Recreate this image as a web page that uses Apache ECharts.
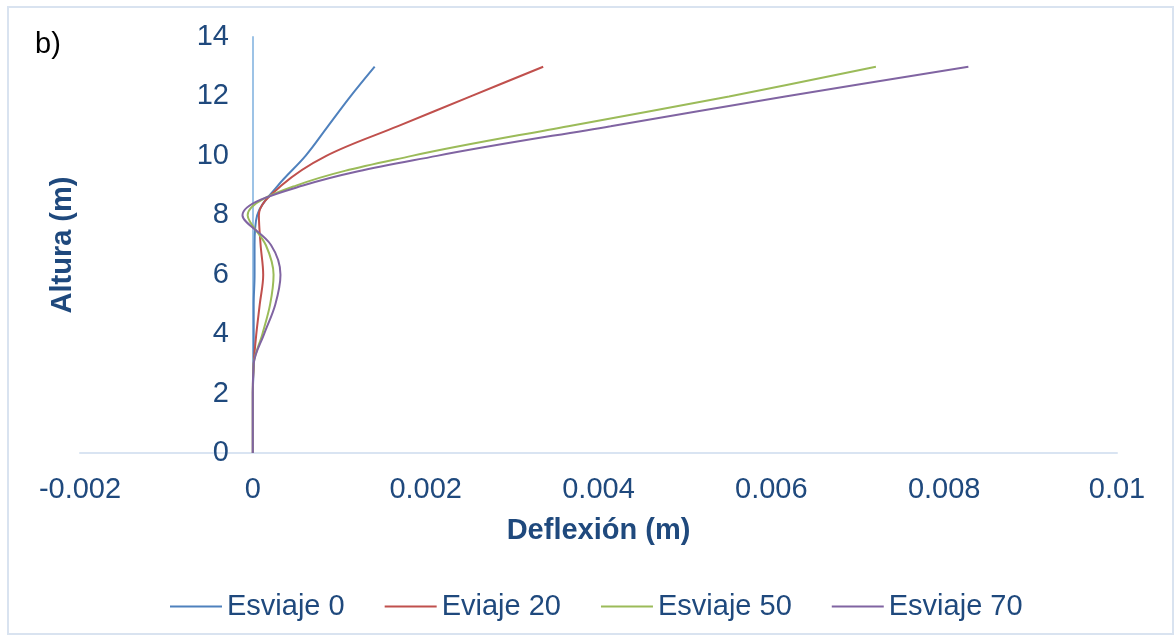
<!DOCTYPE html>
<head>
    <meta charset="utf-8"/>
    <style>
        html, body { margin: 0; padding: 0; background: #fff; }
        #container { width: 1175px; height: 640px; }
    </style>
</head>
<body>
<div id="container"></div>
<script src="https://cdn.jsdelivr.net/npm/echarts@6/dist/echarts.min.js"></script>
<script type="text/javascript">
    // alturas (m) y deflexiones (m)
    var alturas = [0, 1, 2, 3, 4, 5, 6, 7, 8, 9, 10, 11, 12, 13];
    var esviaje0 = [0, 0, 0, 0.00001, 0.00001, 0.00001, 0.00002, 0.00002, 0.00005, 0.00029, 0.00061, 0.00087, 0.00113, 0.00141];
    var eviaje20 = [0, 0, 0, 0.00001, 0.00004, 0.00008, 0.00012, 0.00009, 0.00007, 0.00033, 0.00085, 0.00168, 0.00252, 0.00336];
    var esviaje50 = [0, 0, 0, 0.00001, 0.00011, 0.00020, 0.00024, 0.00015, -0.00006, 0.00050, 0.00184, 0.00365, 0.00551, 0.00721];
    var esviaje70 = [0, 0, 0, 0.00001, 0.00013, 0.00026, 0.00032, 0.00021, -0.00012, 0.00058, 0.00213, 0.00414, 0.00616, 0.00828];

    var nombres = ['Esviaje 0', 'Eviaje 20', 'Esviaje 50', 'Esviaje 70'];
    var colores = ['#4F81BD', '#C0504D', '#9BBB59', '#8064A2'];
    var textColor = '#1F497D';
    var fuente = 'Liberation Sans';
    var tam = 29;
    var xMin = -0.002, xMax = 0.01;
    var gridLeft = 80, gridRight = 58;

    function pares(xs) {
        var d = [];
        for (var i = 0; i < xs.length; i++) {
            d.push([xs[i], alturas[i]]);
        }
        return d;
    }

    var dom = document.getElementById("container");
    var myChart = echarts.init(dom);
    // el eje Y cruza en x = 0: desplazamiento desde el borde izquierdo del grid
    var anchoGrid = 1175 - gridLeft - gridRight;
    var offsetY = -Math.round((0 - xMin) / (xMax - xMin) * anchoGrid);

    var series = [];
    var valores = [esviaje0, eviaje20, esviaje50, esviaje70];
    for (var k = 0; k < valores.length; k++) {
        series.push({
            name: nombres[k],
            type: 'line',
            data: pares(valores[k]),
            smooth: 0.35,
            symbol: 'none',
            lineStyle: {color: colores[k], width: 2},
            itemStyle: {color: colores[k]}
        });
    }

    var option = {
        animation: false,
        color: colores,
        textStyle: {fontFamily: fuente},
        grid: {left: gridLeft, right: gridRight, top: 37, bottom: 187, containLabel: false, outerBoundsMode: 'none'},
        graphic: [
            {
                type: 'rect',
                shape: {x: 8, y: 7, width: 1165, height: 627},
                style: {fill: 'none', stroke: '#D9E3F0', lineWidth: 2},
                silent: true
            },
            {
                type: 'text',
                left: 35,
                top: 30,
                style: {text: 'b)', fill: '#000', font: tam + 'px "Liberation Sans"'}
            }
        ],
        legend: {
            bottom: 14,
            left: 165,
            icon: 'rect',
            itemWidth: 52,
            itemHeight: 2,
            itemGap: 40,
            textStyle: {color: textColor, fontSize: tam, fontFamily: fuente},
            data: nombres
        },
        xAxis: {
            type: 'value',
            min: xMin,
            max: xMax,
            interval: 0.002,
            name: 'Deflexión (m)',
            nameLocation: 'middle',
            nameGap: 63,
            nameTextStyle: {color: textColor, fontSize: tam, fontWeight: 'bold', fontFamily: fuente},
            axisLine: {lineStyle: {color: '#D9E4F2', width: 2}},
            axisTick: {show: false},
            axisLabel: {color: textColor, fontSize: tam, margin: 22, fontFamily: fuente},
            splitLine: {show: false}
        },
        yAxis: {
            type: 'value',
            min: 0,
            max: 14,
            interval: 2,
            position: 'left',
            offset: offsetY,
            name: 'Altura (m)',
            nameLocation: 'middle',
            nameGap: 176,
            nameTextStyle: {color: textColor, fontSize: tam, fontWeight: 'bold', fontFamily: fuente},
            axisLine: {show: true, onZero: false, lineStyle: {color: '#9DC3E6', width: 2}},
            axisTick: {show: false},
            axisLabel: {color: textColor, fontSize: tam, margin: 24, fontFamily: fuente},
            splitLine: {show: false}
        },
        series: series
    };

    if (option && typeof option === "object") {
        myChart.setOption(option, true);
    }
</script>
</body>
